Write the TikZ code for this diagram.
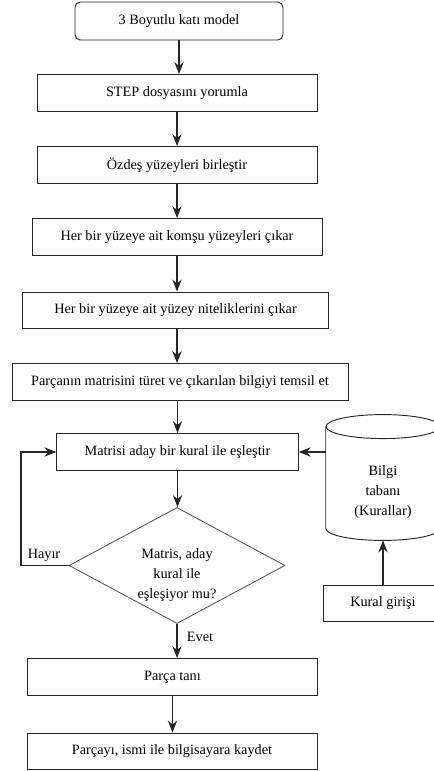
\documentclass[tikz,border=0pt]{standalone}
\usepackage{fontspec}
\setmainfont{Liberation Serif}
\usetikzlibrary{shapes.geometric,arrows.meta}

\begin{document}
\begin{tikzpicture}[x=0.75pt,y=-0.75pt,
    font=\fontsize{10.7}{12.5}\selectfont,
    box/.style={draw=black!85, line width=0.7pt, inner sep=0pt, minimum height=27.75pt},
    arr/.style={draw=black!85, line width=0.9pt, -{Stealth[length=9pt,width=7pt,inset=3pt]}}]
    \useasboundingbox (0,0) rectangle (433,771);

    %process steps
        \node[box, rounded corners=4pt, minimum width=156pt, minimum height=28.5pt] (model) at (179,21) {3 Boyutlu katı model};
        \node[box, minimum width=210pt] (step) at (177,93) {STEP dosyasını yorumla};
        \node[box, minimum width=210pt] (merge) at (177,165) {Özdeş yüzeyleri birleştir};
        \node[box, minimum width=217.5pt] (adj) at (177,237) {Her bir yüzeye ait komşu yüzeyleri çıkar};
        \node[box, minimum width=230pt, minimum height=27pt] (attr) at (175.5,310) {Her bir yüzeye ait yüzey niteliklerini çıkar};
        \node[box, minimum width=252pt] (matrix) at (180,382) {Parçanın matrisini türet ve çıkarılan bilgiyi temsil et};
        \node[box, minimum width=181pt] (rule) at (177.5,452) {Matrisi aday bir kural ile eşleştir};
        \node[diamond, draw=black!70, line width=0.6pt, inner sep=0pt,
              minimum width=162pt, minimum height=87pt,
              label={[align=center, yshift=-7pt, font=\fontsize{10.7}{15}\selectfont]center:Matris, aday\\kural ile\\eşleşiyor mu?}] (match) at (177,565.5) {};
        \node[box, minimum width=218pt] (recog) at (172.5,677) {Parça tanı};
        \node[box, minimum width=217.5pt, minimum height=27pt] (save) at (172,751) {Parçayı, ismi ile bilgisayara kaydet};

    %knowledge base (cylinder drawn round its node)
        \node[inner sep=0pt, minimum width=85.5pt, minimum height=94pt,
              label={[align=center, yshift=-11pt, font=\fontsize{10.7}{15}\selectfont]center:Bilgi\\tabanı\\(Kurallar)}] (kb) at (383,477.5) {};
        \draw[black!85, line width=0.7pt] ([yshift=-9pt]kb.north) ellipse [x radius=42.75pt, y radius=9pt];
        \draw[black!85, line width=0.7pt] ([yshift=-9pt]kb.north west) -- ([yshift=9pt]kb.south west)
            arc [start angle=180, end angle=360, x radius=42.75pt, y radius=9pt] -- ([yshift=-9pt]kb.north east);
        \node[box, minimum width=90pt, minimum height=27pt] (input) at (383,603) {Kural girişi};

    %connectors
        \draw[arr] (model.south) -- (model.south |- step.north);
        \draw[arr] (step.south) -- (step.south |- merge.north);
        \draw[arr] (merge.south) -- (merge.south |- adj.north);
        \draw[arr] (adj.south) -- (adj.south |- attr.north);
        \draw[arr] (adj.south |- attr.south) -- (adj.south |- matrix.north);
        \draw[arr] (rule.south |- matrix.south) -- (rule.south |- rule.north);
        \draw[arr] (rule.south) -- (rule.south |- match.north);
        \draw[arr] (match.south) -- (match.south |- recog.north);
        \draw[arr] (recog.south) -- (recog.south |- save.north);
        \draw[arr] (input) -- (kb);
        \draw[arr] (kb.west |- rule.east) -- (rule.east);
        \coordinate (loop) at (21,565.5);
        \draw[arr] (match.west) -- (loop) |- (rule.west);

    %labels
        \node (no) at (44,555) {Hayır};
        \node (yes) at (200,637) {Evet};
\end{tikzpicture}
\end{document}
